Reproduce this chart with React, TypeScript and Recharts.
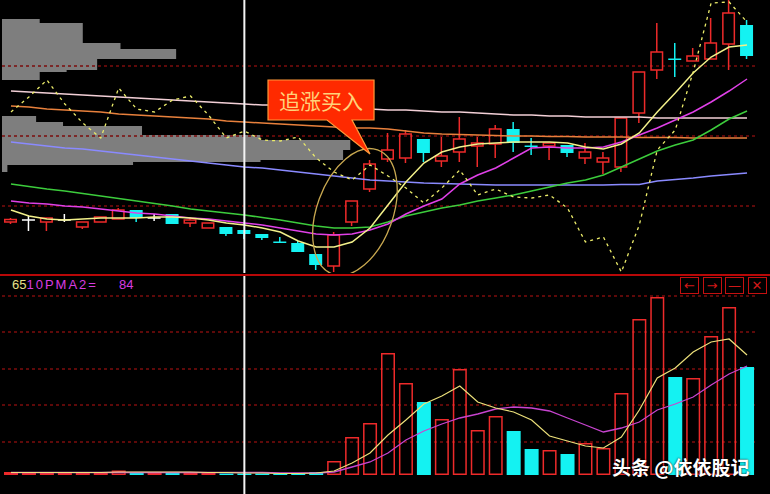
import { Bar, ComposedChart, Line, ReferenceArea, ReferenceDot, ReferenceLine, XAxis, YAxis } from 'recharts';

// daily candles
const opens = [5.1, 5.3, 5.1, 5.3, 4.6, 5.1, 5.4, 6.3, 5.5, 5.9, 5.0, 4.5, 4.6, 4.3, 3.9, 3.15, 3.0, 1.9, 0.7, 5.1, 8.4, 11.4, 11.5, 13.4, 11.2, 12.1, 12.7, 12.9, 14.4, 12.75, 12.7, 12.8, 11.5, 11.1, 10.6, 16.0, 20.3, 21.45, 21.2, 21.4, 22.9, 24.8];
const highs = [5.5, 5.7, 5.5, 5.9, 5.1, 5.6, 6.5, 6.3, 5.9, 5.9, 5.5, 5.0, 4.6, 4.3, 3.9, 3.6, 3.2, 1.9, 4.1, 7.2, 11.3, 14.0, 14.3, 13.4, 13.6, 15.6, 13.6, 14.8, 15.1, 13.5, 13.0, 12.8, 13.0, 12.1, 15.5, 20.1, 25.0, 23.0, 22.5, 25.5, 27.3, 25.3];
const lows = [4.9, 4.2, 4.2, 5.1, 4.4, 5.1, 5.4, 5.1, 5.2, 4.9, 4.6, 4.5, 3.7, 3.4, 3.3, 3.0, 2.1, 0.3, 0.1, 4.7, 8.1, 11.1, 11.0, 11.1, 10.6, 11.1, 10.6, 11.5, 12.1, 11.8, 11.3, 11.6, 10.9, 9.9, 10.1, 15.0, 19.4, 19.6, 21.2, 21.4, 20.3, 21.4];
const closes = [5.35, 5.3, 5.5, 5.3, 5.1, 5.6, 6.3, 5.5, 5.5, 4.9, 5.3, 5.0, 3.9, 3.9, 3.5, 3.05, 2.1, 0.8, 3.8, 7.2, 10.9, 12.3, 13.9, 12.0, 11.7, 13.4, 13.0, 14.4, 13.0, 12.65, 13.0, 12.0, 12.1, 11.5, 15.5, 20.1, 22.1, 21.35, 21.7, 23.0, 26.0, 21.7];

// price-panel lines
const ma5 = [6.3, 5.7, 5.4, 5.3, 5.4, 5.5, 5.5, 5.5, 5.6, 5.6, 5.5, 5.3, 5.0, 4.8, 4.5, 4.1, 3.2, 2.6, 2.6, 3.1, 4.5, 6.8, 9.1, 11.0, 12.1, 12.6, 12.9, 13.0, 13.1, 13.1, 13.1, 13.0, 12.6, 12.4, 12.9, 14.0, 16.1, 18.0, 20.0, 21.6, 22.6, 22.8];
const ma10 = [7.2, 7.0, 6.9, 6.7, 6.6, 6.4, 6.2, 6.0, 5.9, 5.7, 5.5, 5.4, 5.2, 5.0, 4.8, 4.5, 4.2, 3.9, 3.8, 3.9, 4.3, 4.9, 5.9, 6.7, 7.4, 8.9, 9.8, 10.5, 11.5, 12.5, 12.6, 12.5, 12.5, 12.6, 13.1, 13.8, 14.5, 15.3, 16.1, 17.1, 18.2, 19.4];
const ma20 = [8.9, 8.65, 8.4, 8.2, 7.95, 7.7, 7.45, 7.2, 6.95, 6.7, 6.4, 6.2, 6.0, 5.8, 5.55, 5.3, 5.0, 4.7, 4.5, 4.5, 4.6, 5.1, 5.7, 6.1, 6.5, 6.8, 7.2, 7.5, 7.8, 8.2, 8.6, 9.0, 9.3, 9.8, 10.6, 11.4, 12.2, 12.8, 13.3, 14.3, 15.4, 16.2];
const ma60 = [13.1, 12.9, 12.7, 12.5, 12.4, 12.2, 12.0, 11.8, 11.6, 11.4, 11.2, 11.0, 10.8, 10.6, 10.5, 10.3, 10.1, 9.9, 9.7, 9.5, 9.3, 9.2, 9.1, 9.0, 8.95, 8.9, 8.85, 8.8, 8.8, 8.8, 8.8, 8.8, 8.8, 8.8, 8.85, 8.85, 9.2, 9.35, 9.5, 9.7, 9.85, 10.0];
const ma120 = [16.7, 16.6, 16.4, 16.3, 16.2, 16.1, 15.9, 15.8, 15.7, 15.6, 15.5, 15.4, 15.2, 15.1, 15.0, 14.9, 14.8, 14.7, 14.6, 14.5, 14.5, 14.4, 14.2, 14.0, 13.9, 13.85, 13.8, 13.75, 13.7, 13.7, 13.65, 13.65, 13.6, 13.6, 13.6, 13.55, 13.55, 13.55, 13.5, 13.5, 13.5, 13.5];
const ma250 = [18.2, 18.1, 18.0, 17.9, 17.8, 17.7, 17.6, 17.5, 17.4, 17.3, 17.2, 17.1, 17.0, 16.9, 16.8, 16.8, 16.7, 16.6, 16.6, 16.5, 16.4, 16.3, 16.3, 16.2, 16.1, 16.1, 16.0, 15.9, 15.8, 15.8, 15.7, 15.7, 15.6, 15.6, 15.6, 15.6, 15.5, 15.5, 15.5, 15.5, 15.5, 15.5];
const jLine = [16.1, 17.6, 19.3, 16.9, 15.0, 13.5, 18.5, 16.4, 16.1, 17.3, 17.7, 15.8, 13.5, 14.2, 13.3, 13.2, 13.6, 11.5, 10.1, 9.3, 10.8, 9.7, 8.5, 7.0, 8.5, 10.3, 7.8, 8.4, 7.6, 7.5, 7.8, 6.5, 3.1, 3.6, 0.1, 4.8, 12.3, 14.3, 20.1, 27.0, 27.1, 25.1];

// volume panel
const volumes = [3, 3, 3, 3, 3, 3, 4.5, 2, 3, 2, 3, 2, 1.5, 1.5, 1.5, 1.5, 1.5, 3, 14, 38, 52, 122, 92, 73, 56, 106, 45, 59, 44, 26, 25, 21, 32, 27, 82, 156, 178, 98, 97, 139, 168, 108];
const volMa5 = [2.5, 2.5, 2.5, 2.5, 2.5, 2.5, 3, 3, 3, 3, 3, 2.5, 2.5, 2, 2, 1.5, 1.5, 2, 4, 12, 22, 40, 55, 71, 79, 89, 73, 67, 63, 55, 39, 34, 29, 27, 38, 65, 97, 107, 123, 133, 136, 120];
const volMa10 = [2.5, 2.5, 2.5, 2.5, 2.5, 2.5, 2.5, 2.5, 2.5, 2.5, 2.5, 2.5, 2.5, 2.5, 2.5, 2, 2, 2, 3, 8, 13, 22, 35, 44, 51, 57, 61, 66, 68, 67, 64, 57, 50, 43, 47, 53, 65, 71, 78, 90, 101, 109];

// chip-distribution rows: price band and how far (in bars) the grey block reaches
const profile = [
  { lo: 25.0, hi: 25.4, end: 1.6 },
  { lo: 23.0, hi: 25.0, end: 4.0 },
  { lo: 22.4, hi: 23.0, end: 6.1 },
  { lo: 21.4, hi: 22.4, end: 9.2 },
  { lo: 20.3, hi: 21.4, end: 4.8 },
  { lo: 20.1, hi: 20.3, end: 3.1 },
  { lo: 19.3, hi: 20.1, end: 1.6 },
  { lo: 15.1, hi: 15.7, end: 1.4 },
  { lo: 14.7, hi: 15.1, end: 2.9 },
  { lo: 13.8, hi: 14.7, end: 7.3 },
  { lo: 13.3, hi: 13.8, end: 13.9 },
  { lo: 12.3, hi: 13.3, end: 18.9 },
  { lo: 11.3, hi: 12.3, end: 18.5 },
  { lo: 11.1, hi: 11.3, end: 13.9 },
  { lo: 10.8, hi: 11.1, end: 6.8 },
  { lo: 10.1, hi: 10.8, end: -0.2 },
];

const priceGrid = [6.7, 13.7, 20.7];
const volGrid = [33, 70, 106, 143, 179];
const cursorIndex = 13;
const calloutAnchor = { i: 20, price: 11.9 };
const ellipseAnchor = { i: 19.16, price: 6.1 };

const rows = opens.map((open, i) => ({
  i,
  open,
  high: highs[i],
  low: lows[i],
  close: closes[i],
  vol: volumes[i],
  ma5: ma5[i],
  ma10: ma10[i],
  ma20: ma20[i],
  ma60: ma60[i],
  ma120: ma120[i],
  ma250: ma250[i],
  j: jLine[i],
  volMa5: volMa5[i],
  volMa10: volMa10[i],
}));

const RED = '#ee2a2a';
const CYAN = '#14f2f2';
const margin = { top: 0, right: 14, bottom: 0, left: 2 };
const xDomain: [number, number] = [-0.5, 41.5];
const priceDomain: [number, number] = [0, 27.3];
const volDomain: [number, number] = [-19, 199];

function Candle(props: any) {
  const { x, y, width, height, payload } = props;
  if (x == null || !payload) return null;
  const { open, close, high, low } = payload;
  const span = high - low;
  const toY = (v: number) => (span > 0 ? y + ((high - v) / span) * height : y);
  const cx = x + width / 2;
  const yHigh = toY(high);
  const yLow = toY(low);
  if (open === close) {
    const yo = toY(open);
    return (
      <g>
        <line x1={cx} x2={cx} y1={yHigh} y2={yLow} stroke="#fff" strokeWidth={1.5} />
        <line x1={x} x2={x + width} y1={yo} y2={yo} stroke="#fff" strokeWidth={1.5} />
      </g>
    );
  }
  const top = toY(Math.max(open, close));
  const bottom = toY(Math.min(open, close));
  if (close > open) {
    return (
      <g>
        <line x1={cx} x2={cx} y1={yHigh} y2={top} stroke={RED} strokeWidth={1.5} />
        <line x1={cx} x2={cx} y1={bottom} y2={yLow} stroke={RED} strokeWidth={1.5} />
        <rect x={x + 0.75} y={top} width={width - 1.5} height={Math.max(bottom - top, 1)} fill="none" stroke={RED} strokeWidth={1.5} />
      </g>
    );
  }
  return (
    <g>
      <line x1={cx} x2={cx} y1={yHigh} y2={yLow} stroke={CYAN} strokeWidth={1.5} />
      <rect x={x} y={top} width={width} height={Math.max(bottom - top, 1.5)} fill={CYAN} />
    </g>
  );
}

function VolumeBar(props: any) {
  const { x, y, width, height, payload } = props;
  if (x == null || !payload) return null;
  if (payload.close < payload.open) {
    return <rect x={x} y={y} width={width} height={height} fill={CYAN} />;
  }
  return <rect x={x + 0.75} y={y + 0.75} width={width - 1.5} height={Math.max(height - 1.5, 0.5)} fill="none" stroke={RED} strokeWidth={1.5} />;
}

function Callout(props: any) {
  const { cx, cy } = props;
  if (cx == null) return null;
  const d = `M${cx - 102},${cy - 74} L${cx + 4},${cy - 74} L${cx + 4},${cy - 34} L${cx - 18},${cy - 34} L${cx},${cy} L${cx - 43},${cy - 34} L${cx - 102},${cy - 34} Z`;
  return (
    <g>
      <path d={d} fill="#ff2a00" stroke="#ff9a3a" strokeWidth={1.2} />
      <text x={cx - 49} y={cy - 54} textAnchor="middle" dominantBaseline="central" fill="#ffd27a" fontSize={21} fontFamily="'Noto Sans CJK SC', sans-serif">
        追涨买入
      </text>
    </g>
  );
}

function Ring(props: any) {
  const { cx, cy } = props;
  if (cx == null) return null;
  return <ellipse cx={cx} cy={cy} rx={38} ry={66} transform={`rotate(20 ${cx} ${cy})`} fill="none" stroke="#c8a850" strokeWidth={1.3} />;
}

const layer = (top: number): React.CSSProperties => ({ position: 'absolute', left: 0, top });

const buttons = ['←', '→', '—', '✕'];

export default function App() {
  return (
    <div style={{ position: 'relative', width: 770, height: 494, background: '#000', overflow: 'hidden', fontFamily: "'Liberation Sans', Arial, sans-serif" }}>
      <style>{'body{margin:0;background:#000}'}</style>

      {/* price panel: grid and chip distribution */}
      <div style={layer(0)}>
        <ComposedChart width={770} height={273} data={rows} margin={margin}>
          <XAxis dataKey="i" type="number" domain={xDomain} hide allowDataOverflow />
          <YAxis type="number" domain={priceDomain} hide allowDataOverflow />
          {priceGrid.map((v) => (
            <ReferenceLine key={v} y={v} stroke="#7c0c0c" strokeWidth={1.5} strokeDasharray="3 3" />
          ))}
          {profile.map((r, k) => (
            <ReferenceArea key={k} x1={-0.5} x2={r.end} y1={r.lo} y2={r.hi} fill="#7e7e7e" fillOpacity={1} stroke="none" />
          ))}
        </ComposedChart>
      </div>

      {/* price panel: candles and lines */}
      <div style={layer(0)}>
        <ComposedChart width={770} height={273} data={rows} margin={margin}>
          <XAxis dataKey="i" type="number" domain={xDomain} hide allowDataOverflow />
          <YAxis type="number" domain={priceDomain} hide allowDataOverflow />
          <Bar dataKey={(d: any) => [d.low, d.high]} barSize={13} shape={(p: any) => <Candle {...p} />} isAnimationActive={false} />
          <Line dataKey="ma250" stroke="#f2cfd6" strokeWidth={1.5} dot={false} isAnimationActive={false} />
          <Line dataKey="ma120" stroke="#e8803c" strokeWidth={1.5} dot={false} isAnimationActive={false} />
          <Line dataKey="ma60" stroke="#8a8aff" strokeWidth={1.5} dot={false} isAnimationActive={false} />
          <Line dataKey="ma20" stroke="#3ccc3c" strokeWidth={1.5} dot={false} isAnimationActive={false} />
          <Line dataKey="ma10" stroke="#e040e8" strokeWidth={1.5} dot={false} isAnimationActive={false} />
          <Line dataKey="ma5" stroke="#f2f08a" strokeWidth={1.5} dot={false} isAnimationActive={false} />
          <Line dataKey="j" stroke="#ecec6a" strokeWidth={1.3} strokeDasharray="3 4" dot={false} isAnimationActive={false} />
        </ComposedChart>
      </div>

      {/* price panel: annotations and cursor */}
      <div style={layer(0)}>
        <ComposedChart width={770} height={273} data={rows} margin={margin}>
          <XAxis dataKey="i" type="number" domain={xDomain} hide allowDataOverflow />
          <YAxis type="number" domain={priceDomain} hide allowDataOverflow />
          <ReferenceLine x={cursorIndex} stroke="#f4f4f4" strokeWidth={2} />
          <ReferenceDot x={ellipseAnchor.i} y={ellipseAnchor.price} shape={(p: any) => <Ring {...p} />} />
          <ReferenceDot x={calloutAnchor.i} y={calloutAnchor.price} shape={(p: any) => <Callout {...p} />} />
        </ComposedChart>
      </div>

      <div style={{ position: 'absolute', left: 0, top: 274, width: 770, height: 2, background: '#b80808' }} />

      {/* volume panel: grid */}
      <div style={layer(276)}>
        <ComposedChart width={770} height={218} data={rows} margin={margin}>
          <XAxis dataKey="i" type="number" domain={xDomain} hide allowDataOverflow />
          <YAxis type="number" domain={volDomain} hide allowDataOverflow />
          {volGrid.map((v) => (
            <ReferenceLine key={v} y={v} stroke="#7c0c0c" strokeWidth={1.5} strokeDasharray="3 3" />
          ))}
        </ComposedChart>
      </div>

      {/* volume panel: bars and averages */}
      <div style={layer(276)}>
        <ComposedChart width={770} height={218} data={rows} margin={margin}>
          <XAxis dataKey="i" type="number" domain={xDomain} hide allowDataOverflow />
          <YAxis type="number" domain={volDomain} hide allowDataOverflow />
          <Bar dataKey="vol" barSize={14} shape={(p: any) => <VolumeBar {...p} />} isAnimationActive={false} />
          <Line dataKey="volMa10" stroke="#c844d0" strokeWidth={1.3} dot={false} isAnimationActive={false} />
          <Line dataKey="volMa5" stroke="#ece07a" strokeWidth={1.2} dot={false} isAnimationActive={false} />
          <ReferenceLine x={cursorIndex} stroke="#f4f4f4" strokeWidth={2} />
        </ComposedChart>
      </div>

      <div style={{ position: 'absolute', left: 12, top: 277, fontSize: 13, lineHeight: '15px', whiteSpace: 'pre' }}>
        <span style={{ color: '#e6e08a' }}>65</span>
        <span style={{ color: '#d83ce0', letterSpacing: 2 }}>10PMA2=</span>
        <span style={{ color: '#d83ce0', position: 'absolute', left: 107 }}>84</span>
      </div>

      {buttons.map((b, k) => (
        <div
          key={b}
          style={{
            position: 'absolute',
            left: 680 + k * 22.5,
            top: 277,
            width: 17,
            height: 15,
            border: '1px solid #c41010',
            color: '#d01818',
            fontSize: 13,
            lineHeight: '15px',
            textAlign: 'center',
            fontFamily: "'DejaVu Sans', sans-serif",
          }}
        >
          {b}
        </div>
      ))}

      <div
        style={{
          position: 'absolute',
          left: 612,
          top: 453,
          color: '#fff',
          fontSize: 19,
          fontWeight: 700,
          fontFamily: "'Noto Sans CJK SC', sans-serif",
          textShadow: '0 0 2px #000',
          whiteSpace: 'nowrap',
        }}
      >
        头条 @依依股记
      </div>
    </div>
  );
}
